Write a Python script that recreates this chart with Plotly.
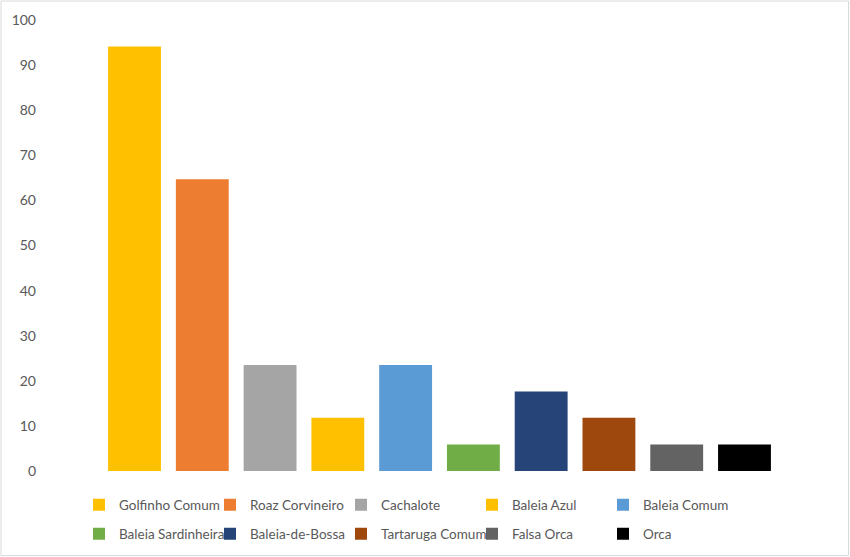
import plotly.graph_objects as go

species = ["Golfinho Comum", "Roaz Corvineiro", "Cachalote", "Baleia Azul", "Baleia Comum",
           "Baleia Sardinheira", "Baleia-de-Bossa", "Tartaruga Comum", "Falsa Orca", "Orca"]
values = [94.1, 64.7, 23.5, 11.8, 23.5, 5.9, 17.6, 11.8, 5.9, 5.9]
colors = ["#FFC000", "#ED7D31", "#A5A5A5", "#FFC000", "#5B9BD5",
          "#70AD47", "#264478", "#9E480E", "#636363", "#000000"]
y_ticks = list(range(0, 101, 10))

FONT = "Lato, Calibri, Carlito, sans-serif"
TXT = "#595959"

fig = go.Figure()
for i, (name, v, c) in enumerate(zip(species, values, colors)):
    fig.add_trace(go.Bar(
        x=[name], y=[v], name=name, marker=dict(color=c, line=dict(width=0)),
        width=0.78, legend="legend" if i < 5 else "legend2",
    ))

W = 850; H = 557
ml, mr, mt, mb = 42, 50, 20, 86
pw = W - ml - mr
ph = H - mt - mb

legend_common = dict(
    orientation="h", xanchor="left", yanchor="middle",
    font=dict(family=FONT, size=13.5, color=TXT),
    entrywidth=86, entrywidthmode="pixels", itemwidth=30,
    bgcolor="rgba(0,0,0,0)", traceorder="normal",
)

fig.update_layout(
    width=W, height=H,
    margin=dict(l=ml, r=mr, t=mt, b=mb, autoexpand=False),
    paper_bgcolor="white", plot_bgcolor="white",
    barmode="overlay",
    font=dict(family=FONT, size=14, color=TXT),
    xaxis=dict(showticklabels=False, showgrid=False, zeroline=False, showline=False,
               ticks="", range=[-1.365, 9.819], categoryorder="array", categoryarray=species,
               automargin=False),
    yaxis=dict(range=[0, 100], tickvals=y_ticks, ticktext=[str(t) for t in y_ticks],
               showgrid=False, zeroline=False, showline=False, ticks="", automargin=False,
               ticklabelstandoff=5,
               tickfont=dict(family=FONT, size=14, color=TXT)),
    legend=dict(x=(79 - ml) / pw, y=-34 / ph, **legend_common),
    legend2=dict(x=(79 - ml) / pw, y=-63 / ph, **legend_common),
    shapes=[dict(type="rect", xref="paper", yref="paper",
                 x0=(1 - ml) / pw, x1=(848.5 - ml) / pw,
                 y0=(mt + ph - 555.5) / ph, y1=(mt + ph - 1) / ph,
                 line=dict(color="#D9D9D9", width=1), fillcolor="rgba(0,0,0,0)", layer="below")],
    showlegend=True,
)

fig.write_html("out.html")
